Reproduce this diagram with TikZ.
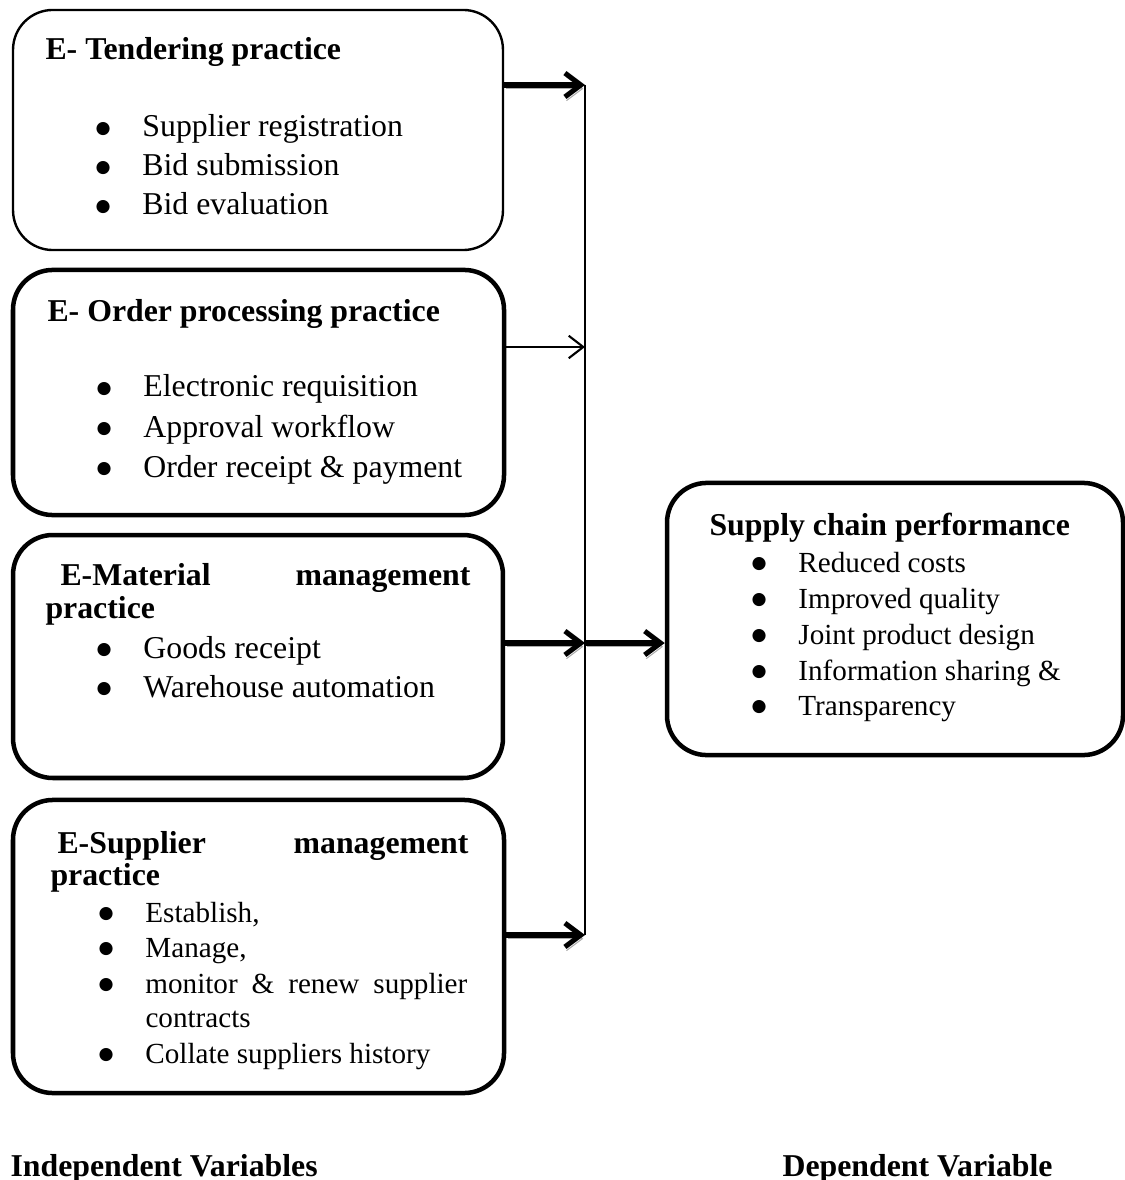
\documentclass[tikz,border=0pt]{standalone}
\usepackage{fontspec}
\setmainfont{Liberation Serif}
\newfontfamily\dotfont{DejaVu Sans}
\usetikzlibrary{arrows.meta}
\newcommand{\bl}{\makebox[17.7pt][l]{\raisebox{1.5pt}{\fontsize{6.5}{6.5}\dotfont ●}}}

\begin{document}
\begin{tikzpicture}[x=0.3774pt, y=-0.3774pt]

\tikzset{
  BoxStyle/.style = { draw, rounded corners=15pt, line width=1.7pt, inner sep=0pt },
  Head/.style = { anchor=base west, inner sep=0pt, font=\fontsize{12}{14}\selectfont\bfseries },
  Item/.style = { anchor=base west, inner sep=0pt, font=\fontsize{12}{14}\selectfont },
  SmallItem/.style = { anchor=base west, inner sep=0pt, font=\fontsize{11}{13}\selectfont },
  BigArrow/.style = { line width=1.9pt, -{Straight Barb[length=6pt,width=9pt]},
                      preaction={draw=gray!65, transform canvas={shift={(0.6pt,-1.4pt)}}} },
  SmallArrow/.style = { line width=0.8pt, -{Straight Barb[length=5.5pt,width=8.5pt]} } }
  \useasboundingbox (0,0) rectangle (1125,1180);

  \node[BoxStyle, line width=0.9pt, minimum width=184.9pt, minimum height=90.6pt] (tender) at (258,130) {};
  \node[BoxStyle, minimum width=185.3pt, minimum height=92.5pt] (order) at (258.5,392.5) {};
  \node[BoxStyle, minimum width=184.9pt, minimum height=91.7pt] (material) at (258,656.5) {};
  \node[BoxStyle, minimum width=185.3pt, minimum height=110.6pt] (supplier) at (258.5,946.5) {};
  \node[BoxStyle, minimum width=172.1pt, minimum height=102.7pt] (perf) at (895,619) {};

  \node[Head] (tenderT) at (45,60) {E- Tendering practice};
  \node[Item] (tender1) at (95,137) {\bl Supplier registration};
  \node[Item] (tender2) at (95,176) {\bl Bid submission};
  \node[Item] (tender3) at (95,215) {\bl Bid evaluation};

  \node[Head] (orderT) at (47,322) {E- Order processing practice};
  \node[Item] (order1) at (96,397) {\bl Electronic requisition};
  \node[Item] (order2) at (96,437) {\bl Approval workflow};
  \node[Item] (order3) at (96,477) {\bl Order receipt \& payment};

  \node[Head] (materialT) at (60,585) {\makebox[154.7pt][s]{E-Material management}};
  \node[Head] (materialU) at (45,618) {practice};
  \node[Item] (material1) at (96,658) {\bl Goods receipt};
  \node[Item] (material2) at (96,697) {\bl Warehouse automation};

  \node[Head] (supplierT) at (57,853) {\makebox[155.1pt][s]{E-Supplier management}};
  \node[Head] (supplierU) at (50,885) {practice};
  \node[SmallItem] (supplier1) at (98,922) {\bl Establish,};
  \node[SmallItem] (supplier2) at (98,957) {\bl Manage,};
  \node[SmallItem] (supplier3) at (98,993) {\bl \makebox[121.5pt][s]{monitor \& renew supplier}};
  \node[SmallItem] (supplier4) at (145,1027) {contracts};
  \node[SmallItem] (supplier5) at (98,1063) {\bl Collate suppliers history};

  \node[Head] (perfT) at (709,535) {Supply chain performance};
  \node[SmallItem] (perf1) at (751,572) {\bl Reduced costs};
  \node[SmallItem] (perf2) at (751,608) {\bl Improved quality};
  \node[SmallItem] (perf3) at (751,644) {\bl Joint product design};
  \node[SmallItem] (perf4) at (751,680) {\bl Information sharing \&};
  \node[SmallItem] (perf5) at (751,715) {\bl Transparency};

  \node[Head] (indep) at (10,1176) {Independent Variables};
  \node[Head] (dep) at (782,1176) {Dependent Variable};

  \coordinate (bus1) at (585,85);
  \coordinate (bus2) at (585,347);
  \coordinate (bus3) at (585,643);
  \coordinate (bus4) at (585,935);
  \draw[line width=0.8pt] (bus1) -- (bus4);
  \draw[BigArrow] (tender.east |- bus1) -- (bus1);
  \draw[SmallArrow] (order.east |- bus2) -- (bus2);
  \draw[BigArrow] (material.east |- bus3) -- (bus3);
  \draw[BigArrow] (supplier.east |- bus4) -- (bus4);
  \draw[BigArrow] (bus3) -- (perf.west |- bus3);

\end{tikzpicture}
\end{document}
